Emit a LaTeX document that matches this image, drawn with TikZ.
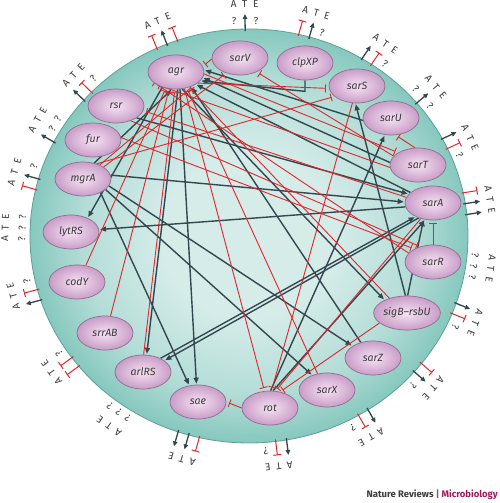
\documentclass[tikz,border=0pt]{standalone}
\usepackage{fontspec}
\setmainfont{Fira Sans}
\usetikzlibrary{arrows.meta,shapes.geometric}
\definecolor{darkc}{HTML}{34474F}
\definecolor{redc}{HTML}{E2252C}
\definecolor{rimc}{HTML}{5F9F96}
\definecolor{bgin}{HTML}{D5ECE9}
\definecolor{bgmid}{HTML}{B4DDD7}
\definecolor{bgout}{HTML}{86C8BE}
\definecolor{nodein}{HTML}{F6E3F3}
\definecolor{nodeout}{HTML}{C99DC8}
\definecolor{nodeb}{HTML}{8E6E8D}
\definecolor{txtc}{HTML}{3A3A3A}
\definecolor{maroonc}{HTML}{9E1B5E}
\pgfdeclareradialshading{bgsh}{\pgfpoint{0bp}{0bp}}{color(0bp)=(bgin); color(10bp)=(bgin); color(19bp)=(bgmid); color(25bp)=(bgout); color(50bp)=(bgout)}
\pgfdeclarelayer{back}\pgfdeclarelayer{mid}
\pgfsetlayers{back,mid,main}
\tikzset{
 gene/.style={ellipse, minimum width=56pt, minimum height=34pt, inner sep=0pt, draw=nodeb, line width=0.7pt, shade, inner color=nodein, outer color=nodeout, text=txtc, font=\fontsize{10.5}{10.5}\selectfont\itshape},
 act/.style={draw=darkc, line width=1.4pt, shorten >=1pt, -{Triangle[length=6pt,width=5pt]}},
 inh/.style={draw=redc, line width=0.9pt, shorten >=3pt, -{Bar[width=8pt]}},
 actsym/.style={draw=darkc, line width=1.3pt, -{Triangle[length=5pt,width=4.5pt]}},
 inhsym/.style={draw=redc, line width=1pt, -{Bar[width=8pt]}},
 lett/.style={inner sep=0pt, text=txtc, font=\fontsize{10}{10}\selectfont},
}
\newcommand\gsym[3]{%
  \ifcase#2\relax
    \draw[actsym] (#1,-2) -- (#1,15);%
  \or
    \draw[inhsym] (#1,-2) -- (#1,14);%
  \or
    \node[lett,rotate=\ga-90] (#3) at (#1,8) {?};%
  \fi}
\newcommand\grp[5]{%
  \def\ga{#1}%
  \begin{scope}[shift={({249+219*cos(#1)},{267+207*sin(#1)})},rotate=#1-90]
    \gsym{-11}{#2}{#5qA}\gsym{0}{#3}{#5qT}\gsym{11}{#4}{#5qE}
    \node[lett,rotate=#1-90] (#5A) at (-11,25) {A};
    \node[lett,rotate=#1-90] (#5T) at (0,25) {T};
    \node[lett,rotate=#1-90] (#5E) at (11,25) {E};
  \end{scope}}
\begin{document}
\begin{tikzpicture}[x=1pt,y=1pt]
\useasboundingbox (0,0) rectangle (500,503);
\begin{pgfonlayer}{back}
\shade[shading=bgsh] (249,267) ellipse [x radius=219, y radius=207];
\draw[rimc, line width=0.8pt] (249,267) ellipse [x radius=219, y radius=207];
\end{pgfonlayer}
% genes
\node[gene] (agr) at (176,431) {agr};
\node[gene] (sarV) at (240,445) {sarV};
\node[gene] (clpXP) at (305,440) {clpXP};
\node[gene] (sarS) at (357,417) {sarS};
\node[gene] (sarU) at (391,385) {sarU};
\node[gene] (sarT) at (418,338) {sarT};
\node[gene] (sarA) at (433,300) {sarA};
\node[gene] (sarR) at (433,241) {sarR};
\node[gene] (sigB) at (407,190) {sigB–rsbU};
\node[gene] (sarZ) at (373,145) {sarZ};
\node[gene] (sarX) at (327,113) {sarX};
\node[gene] (rot) at (270,95) {rot};
\node[gene] (sae) at (198,101) {sae};
\node[gene] (arlRS) at (143,131) {arlRS};
\node[gene] (srrAB) at (105,170) {srrAB};
\node[gene] (codY) at (77,221) {codY};
\node[gene] (lytRS) at (71,271) {lytRS};
\node[gene] (mgrA) at (83,324) {mgrA};
\node[gene] (fur) at (93,363) {fur};
\node[gene] (rsr) at (116,397) {rsr};
\begin{pgfonlayer}{mid}
% activations
\draw[act] (mgrA.55) -- (agr.257);
\draw[act] (agr.228) -- (lytRS.40);
\draw[act] (sarA.188) -- (lytRS.5);
\draw[act] (mgrA.8) -- (sarA.178);
\draw[act] (agr.276) -- (arlRS.78);
\draw[act] (agr.283) -- (sae.95);
\draw[act] (mgrA.322) -- (sae.118);
\draw[act] (arlRS.38) -- (sarA.218);
\draw[act] (sarA.226) -- (arlRS.28);
\draw[act] (rot.80) -- (sarA.245);
\draw[act] (sigB.88) -- (sarA.240);
\draw[act] (sigB.95) -- (sarS.265);
\draw[act] (agr.290) -- (sigB.150);
\draw[act] (mgrA.335) -- (sarX.135);
\draw[act] (mgrA.345) -- (sarZ.150);
\draw[act] (sarZ.128) -- (agr.316);
\draw[act] (sarU.185) -- (agr.4);
\draw[act] (sarT.175) -- (agr.348);
\draw[act] (sarA.155) -- (agr.328);
\draw[act] (clpXP.south) -- ++(0,-11) -- (agr.340);
\draw[act] (rot.88) -- (sarU.250);
\draw[act] (rsr.330) -- (sarA.160);
% inhibitions
\draw[inh] (codY.62) -- (agr.238);
\draw[inh] (srrAB.72) -- (agr.248);
\draw[inh] (arlRS.88) -- (agr.266);
\draw[inh] (agr.297) -- (rot.108);
\draw[inh] (sarA.232) -- (rot.72);
\draw[inh] (sigB.200) -- (rot.58);
\draw[inh] (sarS.255) -- (rot.85);
\draw[inh] (sarV.182) -- (agr.12);
\draw[inh] (agr.333) -- (sarS.185);
\draw[inh] (mgrA.48) -- (sarS.205);
\draw[inh] (agr.356) -- (sarT.148);
\draw[inh] (sarT.100) -- (sarU.285);
\draw[inh] (sarR.90) -- (sarA.270);
\draw[inh] (rsr.315) -- (sarR.130);
\draw[inh] (fur.5) -- (sarR.145);
\draw[inh] (sarA.168) -- (rsr.350);
\draw[inh] (sarR.160) -- (agr.200);
\draw[inh] (sarT.185) -- (agr.212);
\draw[inh] (sarX.120) -- (agr.304);
\draw[inh] (sigB.140) -- (agr.310);
\draw[inh] (mgrA.40) -- (agr.322);
\draw[inh] (mgrA.30) -- (sarV.228);
\draw[inh] (sarT.160) -- (sarV.320);
\draw[inh] (rot.180) -- (sae.0);
\end{pgfonlayer}
% A T E groups
\grp{112}{1}{0}{1}{ga}
\grp{91}{2}{0}{2}{gb}
\grp{74}{1}{0}{2}{gc}
\grp{56}{0}{1}{2}{gd}
\grp{40}{2}{0}{2}{ge}
\grp{25}{0}{1}{2}{gf}
\grp{9}{1}{0}{0}{gg}
\grp{-8}{2}{2}{2}{gh}
\grp{-22}{0}{1}{2}{gi}
\grp{-41}{1}{0}{2}{gj}
\grp{-60}{0}{1}{2}{gk}
\grp{-83}{0}{1}{2}{gl}
\grp{-106}{1}{0}{0}{gm}
\grp{-125}{2}{2}{2}{gn}
\grp{-144}{1}{1}{2}{go}
\grp{-165}{0}{1}{2}{gp}
\grp{178}{2}{2}{2}{gq}
\grp{164}{1}{0}{2}{gr}
\grp{150}{0}{2}{2}{gs}
\grp{136}{0}{1}{2}{gt}
\node[anchor=east, inner sep=0pt, font=\fontsize{9.5}{10}\selectfont\bfseries] (foot) at (498,8) {\textcolor{txtc}{Nature Reviews} \textcolor{black!60}{|} \textcolor{maroonc}{Microbiology}};
\end{tikzpicture}
\end{document}
